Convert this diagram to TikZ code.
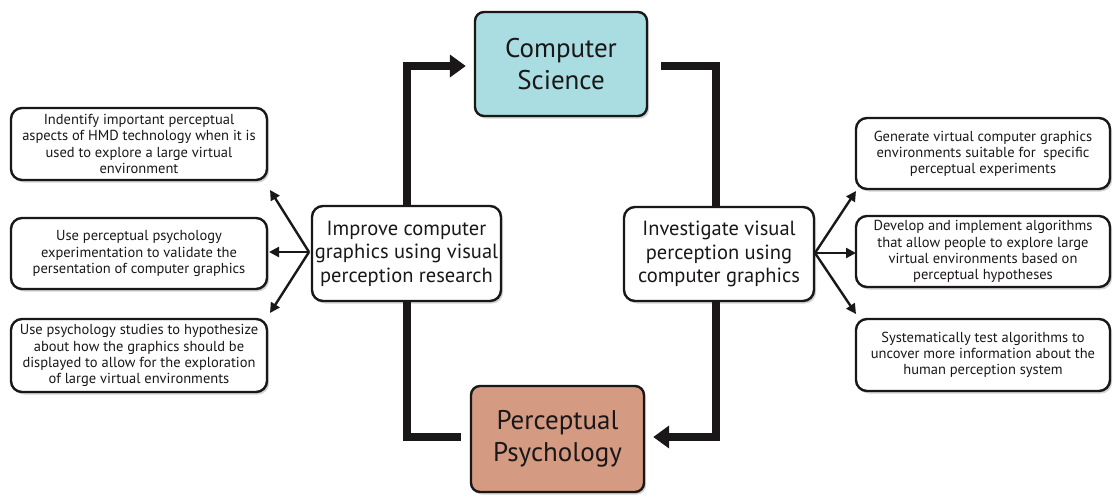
\documentclass[tikz,border=0pt]{standalone}
\usepackage{fontspec}
\setmainfont{PT Sans}
\usetikzlibrary{arrows.meta,shadows}
\definecolor{csfill}{HTML}{A9DDE1}
\definecolor{ppfill}{HTML}{D49A82}
\definecolor{ink}{HTML}{1A1718}
\begin{document}
\begin{tikzpicture}[x=1pt,y=-1pt,
  shade/.style={drop shadow={shadow xshift=2pt,shadow yshift=-2.5pt,opacity=0.35}},
  note/.style={draw=ink,line width=2.4pt,rounded corners=11pt,fill=white,
    align=center,inner sep=0pt,text=ink,shade,
    font=\fontsize{14.5}{16.2}\selectfont},
  hub/.style={note,font=\fontsize{20.5}{23.5}\selectfont},
  field/.style={draw=ink,line width=2.4pt,rounded corners=9pt,
    align=center,inner sep=0pt,text=ink,shade,
    font=\fontsize{27}{32}\selectfont},
  loop/.style={draw=ink,line width=8pt},
  looparrow/.style={loop,-{Triangle[length=16pt,width=22pt]}},
  fan/.style={draw=ink,line width=2.4pt,-{Triangle[length=10pt,width=10pt]}}
]
\useasboundingbox (0,0) rectangle (1113,496);

% discipline boxes
\node[field,fill=csfill,minimum width=172pt,minimum height=104pt] (cs) at (561,64)
  {Computer\\Science};
\node[field,fill=ppfill,minimum width=173pt,minimum height=106pt] (pp) at (557.5,439)
  {Perceptual\\Psychology};

% research directions
\node[hub,minimum width=189pt,minimum height=95pt] (lm) at (406.5,253.5)
  {Improve computer\\graphics using visual\\perception research};
\node[hub,minimum width=190pt,minimum height=94pt] (rm) at (719,254)
  {Investigate visual\\perception using\\computer graphics};

% left goals
\node[note,minimum width=256pt,minimum height=72pt] (l1) at (139,144)
  {Indentify important perceptual\\aspects of HMD technology when it is\\used to explore a large virtual\\environment};
\node[note,minimum width=256pt,minimum height=71pt] (l2) at (139,253.5)
  {Use perceptual psychology\\experimentation to validate the\\persentation of computer graphics};
\node[note,minimum width=256pt,minimum height=73pt] (l3) at (139,355.5)
  {Use psychology studies to hypothesize\\about how the graphics should be\\displayed to allow for the exploration\\of large virtual environments};

% right goals
\node[note,minimum width=254pt,minimum height=71pt] (r1) at (983,153.5)
  {Generate virtual computer graphics\\environments suitable for\ \ specific\\perceptual experiments};
\node[note,minimum width=254pt,minimum height=71pt] (r2) at (983,251.5)
  {Develop and implement algorithms\\that allow people to explore large\\virtual environments based on\\perceptual hypotheses};
\node[note,minimum width=254pt,minimum height=72pt] (r3) at (983,355)
  {Systematically test algorithms to\\uncover more information about the\\human perception system};

% feedback loop between the disciplines
\draw[looparrow,shorten >=8pt] (lm.north) |- ([yshift=-2pt]cs.west);
\draw[loop] ([shift={(13pt,-2pt)}]cs.east) -| ([xshift=-3pt]rm.north);
\draw[looparrow,shorten >=8pt] ([xshift=-3pt]rm.south) |- ([yshift=2pt]pp.east);
\draw[loop] ([shift={(-9pt,2pt)}]pp.west) -| (lm.south);

% fan-out to the goals
\coordinate (lo) at (309,252);
\coordinate (ro) at (815,253);
\coordinate (lt1) at (270,190);
\coordinate (lt2) at (269,252);
\coordinate (lt3) at (270,313);
\coordinate (rt1) at (856,191);
\coordinate (rt2) at (856,253);
\coordinate (rt3) at (856,314);
\draw[fan] (lo) -- (lt1);
\draw[fan] (lo) -- (lt2);
\draw[fan] (lo) -- (lt3);
\draw[fan] (ro) -- (rt1);
\draw[fan] (ro) -- (rt2);
\draw[fan] (ro) -- (rt3);
\end{tikzpicture}
\end{document}
